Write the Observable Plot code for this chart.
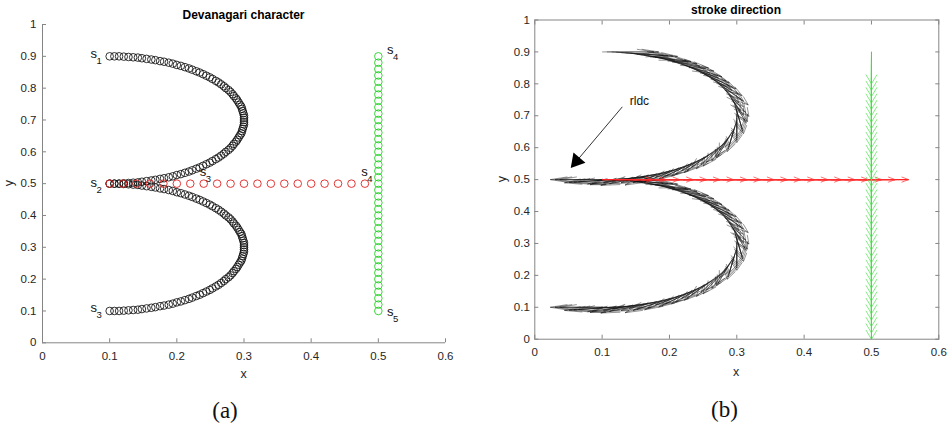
<!DOCTYPE html>
<html>
<head>
<meta charset="utf-8">
<script src="https://cdn.jsdelivr.net/npm/d3@7"></script>
<script src="https://cdn.jsdelivr.net/npm/@observablehq/plot@0.6"></script>
<style>
  html, body { margin: 0; padding: 0; background: #fff; }
  #wrap { position: relative; width: 949px; height: 425px; background: #fff; overflow: hidden;
          font-family: "Liberation Sans", Arial, Helvetica, sans-serif; color: #262626; }
  .pane { position: absolute; top: 0; }
  .lbl { position: absolute; transform: translate(-50%, -50%); white-space: nowrap; line-height: 1; }
  .ttl { font-weight: bold; font-size: 12px; color: #000; }
  .ax { font-size: 12.5px; color: #262626; }
  .cap { font-family: "Liberation Serif", "DejaVu Serif", serif; font-size: 23px; color: #111; }
</style>
</head>
<body>
<div id="wrap">
  <div id="left" class="pane" style="left:0px"></div>
  <div id="right" class="pane" style="left:480px"></div>
  <div class="lbl ttl" style="left:243.5px;top:15px">Devanagari character</div>
  <div class="lbl ttl" style="left:736px;top:10px">stroke direction</div>
  <div class="lbl ax" style="left:243.5px;top:374px">x</div>
  <div class="lbl ax" style="left:736px;top:371.5px">x</div>
  <div class="lbl ax" style="left:8.5px;top:182.5px;transform:translate(-50%,-50%) rotate(-90deg)">y</div>
  <div class="lbl ax" style="left:502px;top:179px;transform:translate(-50%,-50%) rotate(-90deg)">y</div>
  <div class="lbl cap" style="left:225px;top:410px">(a)</div>
  <div class="lbl cap" style="left:724.5px;top:408.5px">(b)</div>
</div>
<script>
// ---------- data ----------
// shared x positions of the two black arcs (s1->s2 and s2->s3)
const arcX = [
  0.100,0.107,0.114,0.121,0.128,0.135,0.142,0.148,0.155,0.162,
  0.168,0.175,0.181,0.188,0.194,0.200,0.206,0.212,0.218,0.223,
  0.229,0.234,0.239,0.244,0.249,0.253,0.258,0.262,0.266,0.270,
  0.273,0.277,0.280,0.283,0.285,0.288,0.290,0.292,0.294,0.296,
  0.297,0.298,0.299,0.300,0.300,0.300,0.300,0.300,0.299,0.298,
  0.297,0.296,0.294,0.292,0.290,0.288,0.285,0.283,0.280,0.277,
  0.273,0.270,0.266,0.262,0.258,0.253,0.249,0.244,0.239,0.234,
  0.229,0.223,0.218,0.212,0.206,0.200,0.194,0.188,0.181,0.175,
  0.168,0.162,0.155,0.148,0.142,0.135,0.128,0.121,0.114,0.107,
  0.100];
const upperArcY = [
  0.900,0.900,0.900,0.899,0.898,0.897,0.896,0.894,0.892,0.890,
  0.888,0.885,0.883,0.880,0.877,0.873,0.870,0.866,0.862,0.858,
  0.853,0.849,0.844,0.839,0.834,0.829,0.823,0.818,0.812,0.806,
  0.800,0.794,0.788,0.781,0.775,0.768,0.762,0.755,0.748,0.742,
  0.735,0.728,0.721,0.714,0.707,0.700,0.693,0.686,0.679,0.672,
  0.665,0.658,0.652,0.645,0.638,0.632,0.625,0.619,0.612,0.606,
  0.600,0.594,0.588,0.582,0.577,0.571,0.566,0.561,0.556,0.551,
  0.547,0.542,0.538,0.534,0.530,0.527,0.523,0.520,0.517,0.515,
  0.512,0.510,0.508,0.506,0.504,0.503,0.502,0.501,0.500,0.500,
  0.500];
const lowerArcY = [
  0.500,0.500,0.500,0.499,0.498,0.497,0.496,0.494,0.492,0.490,
  0.488,0.485,0.483,0.480,0.477,0.473,0.470,0.466,0.462,0.458,
  0.453,0.449,0.444,0.439,0.434,0.429,0.423,0.418,0.412,0.406,
  0.400,0.394,0.388,0.381,0.375,0.368,0.362,0.355,0.348,0.342,
  0.335,0.328,0.321,0.314,0.307,0.300,0.293,0.286,0.279,0.272,
  0.265,0.258,0.252,0.245,0.238,0.232,0.225,0.219,0.212,0.206,
  0.200,0.194,0.188,0.182,0.177,0.171,0.166,0.161,0.156,0.151,
  0.147,0.142,0.138,0.134,0.130,0.127,0.123,0.120,0.117,0.115,
  0.112,0.110,0.108,0.106,0.104,0.103,0.102,0.101,0.100,0.100,
  0.100];
// red horizontal stroke s2/s3 -> s4
const redX = [0.10,0.12,0.14,0.16,0.18,0.20,0.22,0.24,0.26,0.28,
              0.30,0.32,0.34,0.36,0.38,0.40,0.42,0.44,0.46,0.48];
const redY = redX.map(() => 0.5);
// green vertical stroke s4 -> s5
const greenY = [0.90,0.88,0.86,0.84,0.82,0.80,0.78,0.76,0.74,0.72,
                0.70,0.68,0.66,0.64,0.62,0.60,0.58,0.56,0.54,0.52,
                0.50,0.48,0.46,0.44,0.42,0.40,0.38,0.36,0.34,0.32,
                0.30,0.28,0.26,0.24,0.22,0.20,0.18,0.16,0.14,0.12,0.10];
const greenX = greenY.map(() => 0.5);
// stroke-point labels s_i
const labelX   = [0.0715, 0.0715, 0.0715, 0.234, 0.513, 0.4745, 0.513];
const labelY   = [0.908, 0.503, 0.110, 0.538, 0.919, 0.536, 0.097];
const labelSub = ["1", "2", "3", "3", "4", "4", "5"];
// quiver scale factors (panel b) and black arrowhead shape (relative, data units)
const blackScale = 11, redScale = 3.75, greenScale = 5;
const headAlpha = 0.33, headBeta = 0.33;
// "rldc" annotation
const rldcText = "rldc";
const rldcTextPos = [0.141, 0.746];
const rldcFrom = [0.130, 0.728];
const rldcHead = [0.062, 0.558];
// ticks
const xTickValues = [0, 0.1, 0.2, 0.3, 0.4, 0.5, 0.6];
const xTickLabels = ["0", "0.1", "0.2", "0.3", "0.4", "0.5", "0.6"];
const yTickValues = [0, 0.1, 0.2, 0.3, 0.4, 0.5, 0.6, 0.7, 0.8, 0.9, 1];
const yTickLabels = ["0", "0.1", "0.2", "0.3", "0.4", "0.5", "0.6", "0.7", "0.8", "0.9", "1"];

// ---------- tables ----------
const pts = (xs, ys) => xs.map((x, i) => ({x, y: ys[i]}));
const upperPts = pts(arcX, upperArcY);
const lowerPts = pts(arcX, lowerArcY);
const redPts = pts(redX, redY);
const greenPts = pts(greenX, greenY);
const labels = labelX.map((x, i) => ({x, y: labelY[i], sub: labelSub[i]}));

function quiver(xs, ys, k) {
  const n = xs.length;
  return xs.map((x, i) => {
    const a = i < n - 1 ? i : i - 1, b = a + 1;
    return {x1: x, y1: ys[i], x2: x + k * (xs[b] - xs[a]), y2: ys[i] + k * (ys[b] - ys[a])};
  });
}
// quiver-style arrowhead wings computed in data units
function wings(vecs, alpha, beta) {
  const out = [];
  for (const d of vecs) {
    const u = d.x2 - d.x1, v = d.y2 - d.y1;
    if (u === 0 && v === 0) continue;
    out.push({x1: d.x2 - alpha * (u + beta * v), y1: d.y2 - alpha * (v - beta * u), x2: d.x2, y2: d.y2});
    out.push({x1: d.x2 - alpha * (u - beta * v), y1: d.y2 - alpha * (v + beta * u), x2: d.x2, y2: d.y2});
  }
  return out;
}
const blackVec = quiver(arcX, upperArcY, blackScale).concat(quiver(arcX, lowerArcY, blackScale));
const blackWings = wings(blackVec, headAlpha, headBeta);
const redVec = quiver(redX, redY, redScale);
const greenVec = quiver(greenX, greenY, greenScale);

const fmtX = d => xTickLabels[xTickValues.indexOf(d)];
const fmtY = d => yTickLabels[yTickValues.indexOf(d)];
const axisGrey = "#858585";
const textCol = "#262626";
const baseStyle = {background: "none", fontFamily: '"Liberation Sans", Arial, sans-serif', fontSize: "11.5px", color: textCol, overflow: "visible"};
const vecChannels = {x1: "x1", y1: "y1", x2: "x2", y2: "y2"};

// ---------- panel (a) ----------
const left = Plot.plot({
  width: 470, height: 390,
  marginLeft: 42, marginRight: 25, marginTop: 24, marginBottom: 47.7,
  x: {domain: [0, 0.6]}, y: {domain: [0, 1]},
  style: baseStyle,
  marks: [
    Plot.ruleX([0], {stroke: axisGrey}),
    Plot.ruleY([0], {stroke: axisGrey}),
    Plot.axisX({ticks: xTickValues, tickFormat: fmtX, tickSize: -4, tickPadding: 13, stroke: axisGrey, fill: textCol, label: null}),
    Plot.axisY({ticks: yTickValues, tickFormat: fmtY, tickSize: -4, tickPadding: 10, stroke: axisGrey, fill: textCol, label: null}),
    Plot.dot(upperPts, {x: "x", y: "y", r: 3.8, stroke: "#111", strokeWidth: 0.85}),
    Plot.dot(lowerPts, {x: "x", y: "y", r: 3.8, stroke: "#111", strokeWidth: 0.85}),
    Plot.dot(redPts, {x: "x", y: "y", r: 3.8, stroke: "#e02020", strokeWidth: 0.9}),
    Plot.dot(greenPts, {x: "x", y: "y", r: 3.8, stroke: "#1fd21f", strokeWidth: 0.9}),
    Plot.text(labels, {x: "x", y: "y", text: () => "s", textAnchor: "start", fontSize: 13, fill: "#111"}),
    Plot.text(labels, {x: "x", y: "y", text: "sub", textAnchor: "start", dx: 6, dy: 7, fontSize: 9.5, fill: "#111"})
  ]
});
document.getElementById("left").appendChild(left);

// ---------- panel (b) ----------
const right = Plot.plot({
  width: 469, height: 390,
  marginLeft: 54.3, marginRight: 10.7, marginTop: 19.5, marginBottom: 51.3,
  x: {domain: [0, 0.6]}, y: {domain: [0, 1]},
  style: baseStyle,
  marks: [
    Plot.frame({stroke: axisGrey}),
    Plot.axisX({ticks: xTickValues, tickFormat: fmtX, tickSize: -4, tickPadding: 13, stroke: axisGrey, fill: textCol, label: null}),
    Plot.axisX({anchor: "top", ticks: xTickValues, tickFormat: () => "", tickSize: -4, stroke: axisGrey, label: null}),
    Plot.axisY({ticks: yTickValues, tickFormat: fmtY, tickSize: -4, tickPadding: 9, stroke: axisGrey, fill: textCol, label: null}),
    Plot.axisY({anchor: "right", ticks: yTickValues, tickFormat: () => "", tickSize: -4, stroke: axisGrey, label: null}),
    Plot.link(blackVec, {...vecChannels, stroke: "#111", strokeWidth: 0.45}),
    Plot.link(blackWings, {...vecChannels, stroke: "#111", strokeWidth: 0.45}),
    Plot.link(redVec, {...vecChannels, stroke: "#ff1010", strokeWidth: 1.3}),
    Plot.arrow(redVec, {...vecChannels, stroke: "#ff3030", strokeWidth: 0.7, headLength: 15, headAngle: 42}),
    Plot.link(greenVec, {...vecChannels, stroke: "#30dd30", strokeWidth: 1}),
    Plot.arrow(greenVec, {...vecChannels, stroke: "#40e040", strokeWidth: 0.65, headLength: 24, headAngle: 62}),
    Plot.link([{x1: rldcFrom[0], y1: rldcFrom[1], x2: rldcHead[0], y2: rldcHead[1]}], {...vecChannels, stroke: "#000", strokeWidth: 0.8}),
    Plot.dot([{x: rldcHead[0], y: rldcHead[1]}], {x: "x", y: "y", symbol: "triangle", r: 5.8, fill: "#000", stroke: "none", rotate: 220}),
    Plot.text([{x: rldcTextPos[0], y: rldcTextPos[1], t: rldcText}], {x: "x", y: "y", text: "t", textAnchor: "start", fontSize: 12, fill: "#111"})
  ]
});
document.getElementById("right").appendChild(right);
</script>
</body>
</html>
